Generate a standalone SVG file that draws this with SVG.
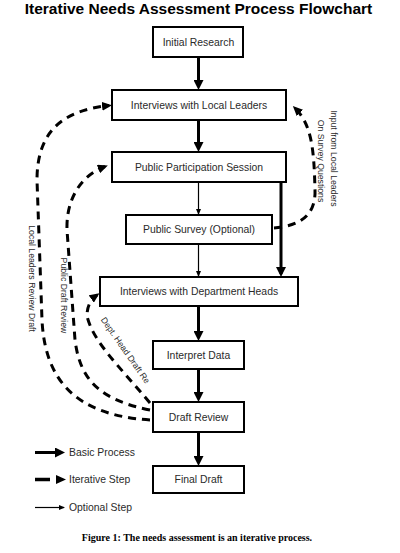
<svg xmlns="http://www.w3.org/2000/svg" width="400" height="553" viewBox="0 0 400 553">
<defs>
<marker id="hThick" markerUnits="userSpaceOnUse" markerWidth="10" markerHeight="10" refX="7" refY="5" orient="auto"><path d="M0,0 L10,5 L0,10 z" fill="#000"/></marker>
<marker id="hThin" markerUnits="userSpaceOnUse" markerWidth="6" markerHeight="5" refX="5" refY="2.5" orient="auto"><path d="M0,0 L6,2.5 L0,5 z" fill="#000"/></marker>
<marker id="hDash" markerUnits="userSpaceOnUse" markerWidth="10" markerHeight="9" refX="7" refY="4.5" orient="auto"><path d="M0,0 L10,4.5 L0,9 z" fill="#000"/></marker>
<style>
.box{fill:#fff;stroke:#000;stroke-width:2}
.lbl{font-family:"Liberation Sans",Arial,sans-serif;font-size:10.4px;fill:#2a2a2a;text-anchor:middle}
.thick{stroke:#000;stroke-width:3;fill:none;marker-end:url(#hThick)}
.thin{stroke:#000;stroke-width:1.2;fill:none;marker-end:url(#hThin)}
.dash{stroke:#000;stroke-width:3;fill:none;stroke-dasharray:8 6;marker-end:url(#hDash)}
.small{font-family:"Liberation Sans",Arial,sans-serif;font-size:8.7px;fill:#2a2a2a;text-anchor:middle}
.leg{font-family:"Liberation Sans",Arial,sans-serif;font-size:10.4px;fill:#2a2a2a}
</style>
</defs>
<rect width="400" height="553" fill="#fff"/>
<text x="198.5" y="14" font-family="'Liberation Sans',Arial,sans-serif" font-size="15.5" font-weight="bold" text-anchor="middle" fill="#000">Iterative Needs Assessment Process Flowchart</text>

<g id="connectors">
<path class="thick" d="M198.5,57 V87"/>
<path class="thick" d="M198.5,120 V149"/>
<path class="thin" d="M198.5,182 V214"/>
<path class="thin" d="M198.5,244 V276"/>
<path class="thick" d="M281,182 V274"/>
<path class="thick" d="M198.5,306 V338"/>
<path class="thick" d="M198.5,369 V399"/>
<path class="thick" d="M198.5,432 V463"/>
<path class="dash" d="M150,420 C 75,415 45,380 42,320 L 37,180 C 37,125 70,110 109,105.5"/>
<path class="dash" d="M150,410 C 100,400 80,380 75,340 L 67,230 C 66,200 80,176 105,166.5"/>
<path class="dash" d="M150,403 C 120,367 93,342 87,316 Q 87,302 97,295"/>
<path class="dash" d="M274,228 C 300,226 316,215 315,190 C 314,150 312,125 295,108"/>
</g>

<g id="n1"><rect class="box" x="153" y="27" width="90" height="30"/><text class="lbl" x="198.5" y="45.7">Initial Research</text></g>
<g id="n2"><rect class="box" x="112" y="90" width="174" height="30"/><text class="lbl" x="199" y="108.7">Interviews with Local Leaders</text></g>
<g id="n3"><rect class="box" x="112" y="152" width="174" height="30"/><text class="lbl" x="199" y="170.7">Public Participation Session</text></g>
<g id="n4"><rect class="box" x="126" y="215" width="146" height="29"/><text class="lbl" x="199" y="233">Public Survey (Optional)</text></g>
<g id="n5"><rect class="box" x="100" y="277" width="198" height="29"/><text class="lbl" x="199" y="295">Interviews with Department Heads</text></g>
<g id="n6"><rect class="box" x="153" y="341" width="91" height="28"/><text class="lbl" x="198.5" y="358.6">Interpret Data</text></g>
<g id="n7"><rect class="box" x="153" y="402" width="91" height="30"/><text class="lbl" x="198.5" y="420.6">Draft Review</text></g>
<g id="n8"><rect class="box" x="153" y="466" width="91" height="27"/><text class="lbl" x="198.5" y="483">Final Draft</text></g>

<g id="edge-labels">
<text class="small" transform="translate(331,158.5) rotate(90)">Input from Local Leaders</text>
<text class="small" transform="translate(318,161) rotate(90)">On Survey Questions</text>
<text class="small" transform="translate(29,278.5) rotate(90)">Local Leaders Review Draft</text>
<text class="small" transform="translate(61,295.5) rotate(90)">Public Draft Review</text>
<text class="small" transform="translate(123,352) rotate(55)">Dept. Head Draft Re</text>
</g>

<g id="legend">
<path class="thick" d="M35,452.5 H62"/>
<text class="leg" x="69" y="456">Basic Process</text>
<path d="M35,479.5 H50" stroke="#000" stroke-width="3.5"/>
<path d="M56,475 L66,479.5 L56,484 z" fill="#000"/>
<text class="leg" x="69" y="483">Iterative Step</text>
<path class="thin" d="M35,507.5 H64"/>
<text class="leg" x="69" y="511">Optional Step</text>
</g>

<text x="197" y="541" font-family="'Liberation Serif','Times New Roman',serif" font-size="10" font-weight="bold" text-anchor="middle" fill="#000">Figure 1: The needs assessment is an iterative process.</text>
</svg>
